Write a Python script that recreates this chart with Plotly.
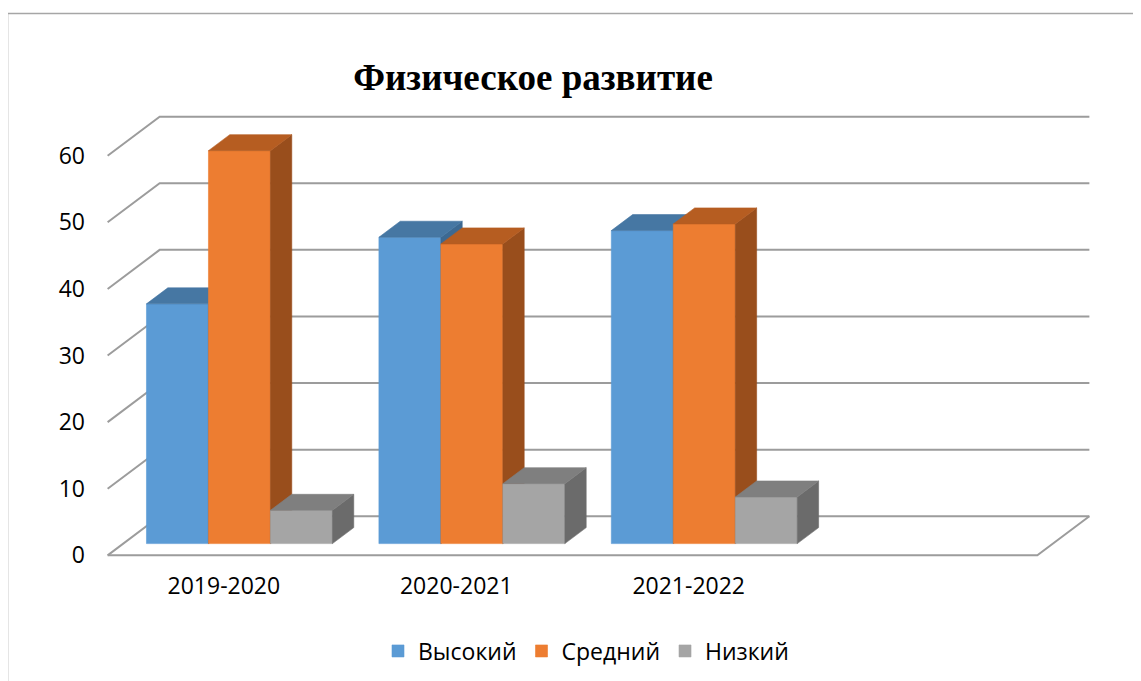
import plotly.graph_objects as go

# ---------------- data ----------------
categories = ["2019-2020", "2020-2021", "2021-2022"]
series_names = ["Высокий", "Средний", "Низкий"]
vals_high = [36, 46, 47]
vals_mid = [59, 45, 48]
vals_low = [5, 9, 7]
y_ticks = [0, 10, 20, 30, 40, 50, 60]
n_slots = 4  # Excel category area has one empty slot at the right

series_values = [vals_high, vals_mid, vals_low]
front_colors = ["#5B9BD5", "#ED7D31", "#A5A5A5"]
top_colors = ["#4677A3", "#B65D21", "#7F7F7F"]
side_colors = ["#3C6992", "#994E1C", "#6B6B6B"]

# ---------------- pseudo-3D geometry (axis units) ----------------
W, H = 1141, 681
OFF = 8                # page body margin: figure starts 8px into the page
PX_X = 232.25          # pixels per category slot
PX_Y = 6.65            # pixels per value unit
DX = 52 / PX_X         # depth offset in x units
DY = 39 / PX_Y         # depth offset in y units
F0, F1 = 0.30, 0.71    # bar front/back depth fractions
BW = 0.8 / 3           # bar width (slot units)

x_lo, x_hi = -0.5 - 0.05, (n_slots - 0.5) + DX + 0.05
y_lo, y_hi = -1.0, max(y_ticks) + DY + 1.0
front_left_px, front_zero_py = 108 - OFF, 555 - OFF
m_l = front_left_px - 0.05 * PX_X
m_b = H - (front_zero_py + 1.0 * PX_Y)
plot_w = (x_hi - x_lo) * PX_X
plot_h = (y_hi - y_lo) * PX_Y
m_r = W - m_l - plot_w
m_t = H - m_b - plot_h

fig = go.Figure()

# gridlines / walls / floor on base axes
gx, gy = [], []
for v in y_ticks:
    gx += [-0.5, -0.5 + DX, n_slots - 0.5 + DX, None]
    gy += [v, v + DY, v + DY, None]
gx += [-0.5, n_slots - 0.5, n_slots - 0.5 + DX, None]
gy += [0, 0, DY, None]
fig.add_trace(go.Scatter(x=gx, y=gy, mode="lines",
                         line=dict(color="#9C9C9C", width=2),
                         hoverinfo="skip", showlegend=False,
                         xaxis="x", yaxis="y", cliponaxis=False))

# each series drawn on its own overlaid axes (painter's order left->right)
for j, (name, vals) in enumerate(zip(series_names, series_values)):
    ax_id = j + 2
    xa, ya = f"x{ax_id}", f"y{ax_id}"
    centers = [s + (j - 1) * BW for s in range(len(categories))]
    sx, sy, tx, ty = [], [], [], []
    for c, v in zip(centers, vals):
        xl, xr = c - BW / 2, c + BW / 2
        # side face
        sx += [xr + F0 * DX, xr + F1 * DX, xr + F1 * DX, xr + F0 * DX, xr + F0 * DX, None]
        sy += [F0 * DY, F1 * DY, v + F1 * DY, v + F0 * DY, F0 * DY, None]
        # top face
        tx += [xl + F0 * DX, xr + F0 * DX, xr + F1 * DX, xl + F1 * DX, xl + F0 * DX, None]
        ty += [v + F0 * DY, v + F0 * DY, v + F1 * DY, v + F1 * DY, v + F0 * DY, None]
    fig.add_trace(go.Scatter(x=sx, y=sy, mode="lines", fill="toself",
                             fillcolor=side_colors[j], line=dict(width=0.6, color=side_colors[j]),
                             hoverinfo="skip", showlegend=False, xaxis=xa, yaxis=ya))
    fig.add_trace(go.Scatter(x=tx, y=ty, mode="lines", fill="toself",
                             fillcolor=top_colors[j], line=dict(width=0.6, color=top_colors[j]),
                             hoverinfo="skip", showlegend=False, xaxis=xa, yaxis=ya))
    fig.add_trace(go.Bar(x=[c + F0 * DX for c in centers], y=vals,
                         base=[F0 * DY] * len(vals), width=BW, name=name,
                         marker=dict(color=front_colors[j],
                                     line=dict(width=0.6, color=front_colors[j])),
                         xaxis=xa, yaxis=ya))

font_ax = dict(family="Open Sans, Liberation Sans, sans-serif", size=23, color="#000000")
hidden = dict(showgrid=False, zeroline=False, showline=False,
              showticklabels=False, ticks="")

layout = dict(
    width=W, height=H,
    margin=dict(l=m_l, r=m_r, t=m_t, b=m_b, pad=0),
    paper_bgcolor="white", plot_bgcolor="rgba(0,0,0,0)",
    barmode="overlay",
    showlegend=True,
    title=dict(text="<b>Физическое развитие</b>", x=(533 - OFF) / W, y=1 - (77 - OFF) / H,
               xref="container", yref="container", xanchor="center", yanchor="middle",
               font=dict(family="Liberation Serif, Times New Roman, serif", size=37, color="#000000")),
    legend=dict(orientation="h", xref="container", yref="container",
                x=(586 - OFF) / W, y=1 - (651 - OFF) / H, xanchor="center", yanchor="middle",
                font=font_ax, itemwidth=30, traceorder="normal"),
    xaxis=dict(range=[x_lo, x_hi], showgrid=False, zeroline=False, showline=False,
               tickmode="array", tickvals=list(range(len(categories))), ticktext=categories,
               ticks="", tickfont=font_ax, ticklabelstandoff=8, fixedrange=True),
    yaxis=dict(range=[y_lo, y_hi], showgrid=False, zeroline=False, showline=False,
               tickmode="array", tickvals=y_ticks, ticktext=[str(v) for v in y_ticks],
               ticks="", tickfont=font_ax, ticklabelstandoff=10, fixedrange=True),
)
for k in range(2, 2 + len(series_names)):
    layout[f"xaxis{k}"] = dict(hidden, range=[x_lo, x_hi], overlaying="x", fixedrange=True)
    layout[f"yaxis{k}"] = dict(hidden, range=[y_lo, y_hi], overlaying="y", fixedrange=True)
fig.update_layout(**layout)

# chart-area border (Excel frame), positioned in paper coords from pixels
def px_to_paper_x(px):
    return (px - OFF - m_l) / plot_w

def py_to_paper_y(py):
    return (H - m_b - (py - OFF)) / plot_h

fig.add_shape(type="rect", xref="paper", yref="paper",
              x0=px_to_paper_x(8), x1=px_to_paper_x(W + 40),
              y0=py_to_paper_y(H + 40), y1=py_to_paper_y(14),
              line=dict(color="#A6A6A6", width=1.5), fillcolor="rgba(0,0,0,0)", layer="below")

fig.write_html("out.html")
